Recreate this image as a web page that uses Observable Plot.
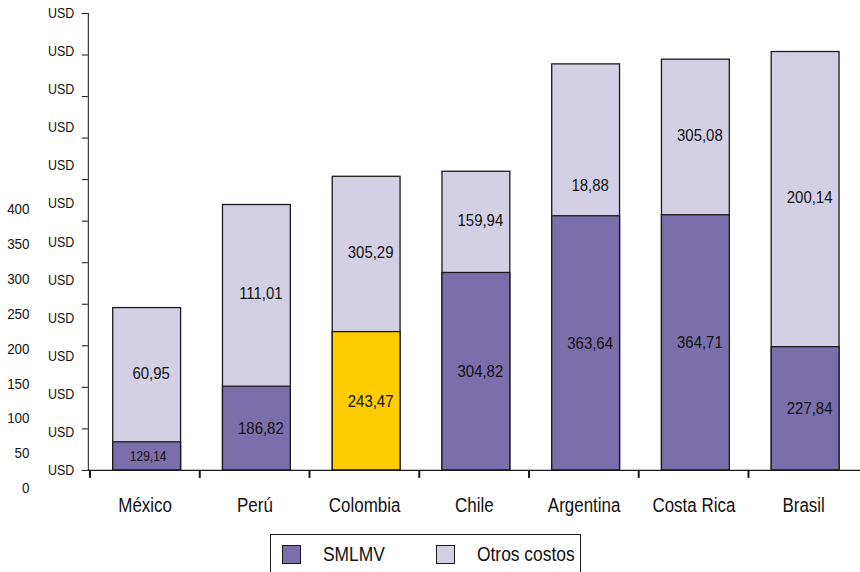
<!DOCTYPE html>
<html lang="es">
<head>
<meta charset="utf-8">
<script src="https://cdn.jsdelivr.net/npm/d3@7"></script>
<script src="https://cdn.jsdelivr.net/npm/@observablehq/plot@0.6"></script>
<style>
  html, body { margin: 0; padding: 0; background: #fff; }
  body { width: 860px; height: 572px; overflow: hidden; font-family: "Liberation Sans", Arial, Helvetica, sans-serif; }
  #chart { position: relative; width: 860px; height: 572px; overflow: hidden; }
  #chart svg { position: absolute; top: 0; overflow: visible; }
  #principal { left: 0; }
  #cifras { left: 0; }
  .leyenda {
    position: absolute; left: 270px; top: 534px; width: 311px; height: 50px;
    box-sizing: border-box; border: 1px solid #1a1a1a; background: #fff;
  }
  .leyenda .item { position: absolute; top: 8px; height: 22px; display: flex; align-items: center; }
  .leyenda .sw { width: 19px; height: 19px; border: 1px solid #1a1a1a; box-sizing: border-box; }
  .leyenda .txt { margin-left: 22px; font-size: 17.4px; color: #111; display: inline-block; transform: scaleY(1.15); }
</style>
</head>
<body>
<div id="chart"></div>
<script>
// Costo mensual por país: salario mínimo (SMLMV) y otros costos
const paises = ["México", "Perú", "Colombia", "Chile", "Argentina", "Costa Rica", "Brasil"];
const smlmv = [129.14, 186.82, 243.47, 304.82, 363.64, 364.71, 227.84];
const otrosCostos = [60.95, 111.01, 305.29, 159.94, 18.88, 305.08, 200.14];
// altura total de cada columna apilada, en la escala del eje USD
const totalColumna = [268.4, 375.3, 404.6, 409.8, 521.2, 526.1, 534.0];
// cifras sueltas a la izquierda del eje
const cifrasEje = [0, 50, 100, 150, 200, 250, 300, 350, 400];
const etiquetaEje = "USD";
const series = ["SMLMV", "Otros costos"];

const colores = { "SMLMV": "#7a6fab", "Otros costos": "#d3d0e6", "Colombia": "#ffcc00" };
const borde = "#1a1a1a";
const fuente = '"Liberation Sans", Arial, Helvetica, sans-serif';

const filas = paises.map((pais, i) => ({
  pais, smlmv: smlmv[i], otros: otrosCostos[i], total: totalColumna[i]
}));

const locale = d3.formatLocale({ decimal: ",", thousands: ".", grouping: [3], currency: ["", ""] });
const fmt = locale.format(".2f");

// eje vertical: base y tope del rango en USD
const yBase = 100, yTope = 574;
const marcasY = d3.range(12).map(i => yBase + i * (yTope - yBase) / 11);
const rotulosY = d3.range(13).map(i => yBase + i * (yTope - yBase) / 12);

const W = 862, H = 530, mL = 88, mR = 0, mT = 13, mB = 59;
const paso = (W - mL - mR) / paises.length;
const pxUnidad = (yTope - yBase) / (H - mT - mB);

const plot = Plot.plot({
  width: W, height: H,
  marginLeft: mL, marginRight: mR, marginTop: mT, marginBottom: mB,
  style: { fontFamily: fuente, fontSize: "17px", color: "#111", background: "transparent" },
  x: { domain: paises, paddingInner: 0.378, paddingOuter: 0.189, label: null, tickSize: 0, tickPadding: 29 },
  y: { domain: [yBase, yTope], ticks: marcasY, tickFormat: () => "", tickSize: 6, line: true, label: null },
  color: {
    domain: ["SMLMV", "Otros costos", "Colombia"],
    range: [colores["SMLMV"], colores["Otros costos"], colores["Colombia"]]
  },
  marks: [
    // columna completa (otros costos)
    Plot.barY(filas, { x: "pais", y1: yBase, y2: "total", fill: () => "Otros costos", stroke: borde, strokeWidth: 1.3, dx: 2 }),
    // tramo del salario mínimo
    Plot.barY(filas, {
      x: "pais", y1: yBase, y2: "smlmv",
      fill: d => d.pais === "Colombia" ? "Colombia" : "SMLMV",
      stroke: borde, strokeWidth: 1.3, dx: 2
    }),
    // línea base
    Plot.ruleY([yBase], { stroke: borde, strokeWidth: 1.3 }),
    // marcas entre categorías
    Plot.ruleX(paises, { x: d => d, y1: yBase, y2: yBase - 8 * pxUnidad, dx: -paso / 2, stroke: borde, strokeWidth: 2 }),
    // rótulos del eje vertical
    Plot.text(rotulosY, { y: d => d, text: () => etiquetaEje, frameAnchor: "left", textAnchor: "end", dx: -14, fontSize: 12.5, fill: "#111" }),
    // valores del salario mínimo
    Plot.text(filas.filter(d => d.smlmv - yBase >= 40), {
      x: "pais", y: d => (yBase + d.smlmv) / 2, text: d => fmt(d.smlmv), dx: 6, fontSize: 15, fill: "#111"
    }),
    Plot.text(filas.filter(d => d.smlmv - yBase < 40), {
      x: "pais", y: d => (yBase + d.smlmv) / 2, text: d => fmt(d.smlmv), dx: 3, fontSize: 12, fill: "#111"
    }),
    // valores de otros costos
    Plot.text(filas.filter(d => d.pais !== "Argentina"), {
      x: "pais", y: d => (d.smlmv + d.total) / 2, text: d => fmt(d.otros), dx: 6, dy: -2, fontSize: 15, fill: "#111"
    }),
    Plot.text(filas.filter(d => d.pais === "Argentina"), {
      x: "pais", y: d => (d.smlmv + d.total) / 2, text: d => fmt(d.otros), dx: 6, dy: 45, fontSize: 15, fill: "#111"
    })
  ]
});
plot.id = "principal";

// columna de cifras a la izquierda
const cifras = Plot.plot({
  width: 32, height: 572,
  marginLeft: 0, marginRight: 3, marginTop: 209, marginBottom: 572 - 487.5,
  style: { fontFamily: fuente, background: "transparent" },
  x: { axis: null },
  y: { domain: [0, 400], axis: null },
  marks: [
    Plot.text(cifrasEje, { y: d => d, text: d => String(d), frameAnchor: "right", textAnchor: "end", fontSize: 13.4, fill: "#111" })
  ]
});
cifras.id = "cifras";

const chart = document.getElementById("chart");
chart.appendChild(plot);
chart.appendChild(cifras);

// leyenda
const leyenda = document.createElement("div");
leyenda.className = "leyenda";
const posLeyenda = [11, 165];
series.forEach((s, i) => {
  const item = document.createElement("div");
  item.className = "item";
  item.style.left = posLeyenda[i] + "px";
  item.innerHTML = `<span class="sw" style="background:${colores[s]}"></span><span class="txt">${s}</span>`;
  leyenda.appendChild(item);
});
chart.appendChild(leyenda);

// texto algo más alto que ancho, como en la tipografía del gráfico
const estirar = 1.15;
for (const svg of [plot, cifras]) {
  svg.querySelectorAll("text").forEach(t => {
    const bb = t.getBBox();
    if (!bb.height) return;
    const cy = bb.y + bb.height / 2;
    const prev = t.getAttribute("transform") || "";
    t.setAttribute("transform", `${prev} translate(0,${cy}) scale(1,${estirar}) translate(0,${-cy})`.trim());
  });
}
</script>
</body>
</html>
